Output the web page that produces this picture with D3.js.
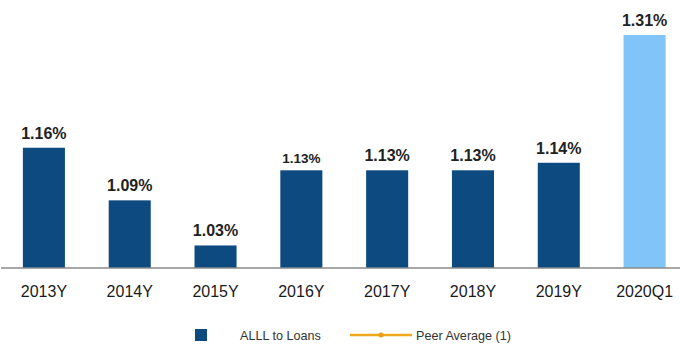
<!DOCTYPE html>
<html>
<head>
<meta charset="utf-8">
<script src="https://cdn.jsdelivr.net/npm/d3@7/dist/d3.min.js"></script>
<style>
  html, body { margin: 0; padding: 0; background: #fff; }
  svg { display: block; font-family: Arial, "Liberation Sans", sans-serif; }
</style>
</head>
<body>
<svg id="chart" width="680" height="347"></svg>
<script>
// ALLL to Loans by period
const categories = ["2013Y", "2014Y", "2015Y", "2016Y", "2017Y", "2018Y", "2019Y", "2020Q1"];
const alllValues = [1.16, 1.09, 1.03, 1.13, 1.13, 1.13, 1.14, 1.31];
const valueLabels = ["1.16%", "1.09%", "1.03%", "1.13%", "1.13%", "1.13%", "1.14%", "1.31%"];
const legendItems = ["ALLL to Loans", "Peer Average (1)"];

const svg = d3.select("#chart");
const darkBlue = "#0d4a80";
const lightBlue = "#80c4f9";
const baseline = 268;

const x = d3.scaleBand()
  .domain(categories)
  .range([1, 687.5])
  .paddingInner(0.51)
  .paddingOuter(0.255);

const y = d3.scaleLinear()
  .domain([1.0, 1.31])
  .range([baseline, 35]);

const data = categories.map((c, i) => ({ cat: c, value: alllValues[i], label: valueLabels[i] }));

// bars
svg.append("g").selectAll("rect")
  .data(data)
  .join("rect")
  .attr("x", d => x(d.cat))
  .attr("y", d => y(d.value))
  .attr("width", x.bandwidth())
  .attr("height", d => y(y.domain()[0]) - y(d.value))
  .attr("fill", (d, i) => i === data.length - 1 ? lightBlue : darkBlue);

// value labels
svg.append("g").selectAll("text")
  .data(data)
  .join("text")
  .attr("x", d => x(d.cat) + x.bandwidth() / 2)
  .attr("y", d => y(d.value) - (d.cat === "2016Y" ? 7 : 9))
  .attr("text-anchor", "middle")
  .attr("font-weight", "bold")
  .attr("font-size", d => d.cat === "2016Y" ? 13.5 : 16)
  .attr("fill", "#222")
  .text(d => d.label);

// baseline axis
const axis = d3.axisBottom(x).tickSize(0).tickPadding(0);
const axisG = svg.append("g")
  .attr("transform", `translate(0,${baseline})`)
  .call(axis);
axisG.select(".domain").remove();
axisG.append("line")
  .attr("x1", 1).attr("x2", 680)
  .attr("y1", 0).attr("y2", 0)
  .attr("stroke", "#8a8a8a")
  .attr("stroke-width", 1.5);
axisG.selectAll(".tick text")
  .attr("y", 29)
  .attr("dy", 0)
  .attr("font-size", 16)
  .attr("font-family", "Arial, 'Liberation Sans', sans-serif")
  .attr("fill", "#1a1a1a");

// legend
const legend = svg.append("g");
legend.append("rect")
  .attr("x", 195).attr("y", 329)
  .attr("width", 12).attr("height", 12)
  .attr("fill", darkBlue);
legend.append("text")
  .attr("x", 240).attr("y", 340)
  .attr("font-size", 12.6)
  .attr("fill", "#333")
  .text(legendItems[0]);
legend.append("line")
  .attr("x1", 350).attr("x2", 412)
  .attr("y1", 335).attr("y2", 335)
  .attr("stroke", "#f2a81d")
  .attr("stroke-width", 2.5);
legend.append("circle")
  .attr("cx", 381).attr("cy", 335)
  .attr("r", 2.5)
  .attr("fill", "#e89e10");
legend.append("text")
  .attr("x", 416).attr("y", 340)
  .attr("font-size", 12.6)
  .attr("fill", "#333")
  .text(legendItems[1]);
</script>
</body>
</html>
